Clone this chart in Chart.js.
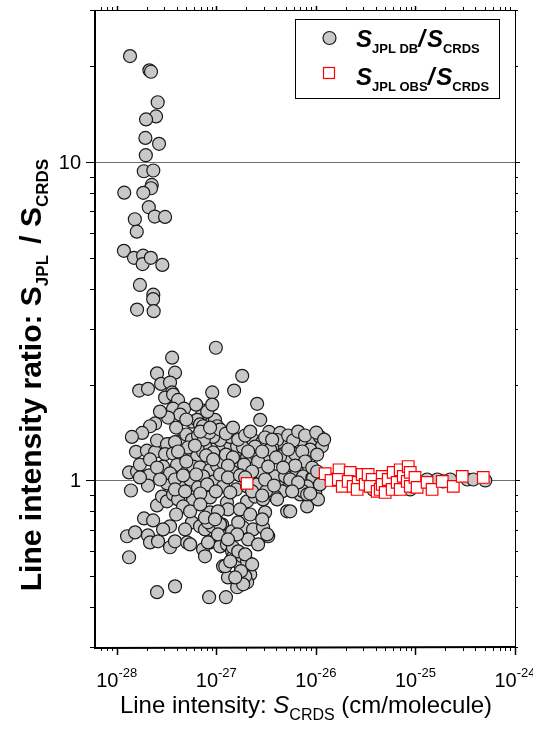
<!DOCTYPE html>
<html>
<head>
<meta charset="utf-8">
<script src="https://cdn.jsdelivr.net/npm/chart.js@4.4.1/dist/chart.umd.min.js"></script>
<style>
  html, body { margin: 0; padding: 0; background: #ffffff; }
  #wrap { width: 533px; height: 729px; }
</style>
</head>
<body>
<div id="wrap"><canvas id="c" width="533" height="729"></canvas></div>
<script>
// Line intensities S_CRDS (cm/molecule) and ratios S_JPL DB / S_CRDS
const dbIntensity = [
  1.36e-28, 2.13e-28, 2.21e-28, 2.58e-28, 2.48e-28, 1.97e-28, 1.94e-28, 2.66e-28, 1.96e-28, 1.87e-28,
  2.33e-28, 2.25e-28, 2.21e-28, 1.19e-28, 1.85e-28, 2.10e-28, 2.41e-28, 3.06e-28, 1.52e-28, 1.59e-28,
  1.18e-28, 1.49e-28, 1.84e-28, 1.82e-28, 2.20e-28, 2.87e-28, 1.71e-28, 2.33e-28, 2.32e-28, 1.60e-28,
  2.35e-28,
  9.9e-28, 3.6e-28, 2.54e-28, 3.85e-28, 1.82e-27, 1.68e-28, 2.06e-28, 2.79e-28, 3.43e-28, 3.6e-28,
  9.1e-28, 1.51e-27, 3.06e-28, 3.68e-28, 4.13e-28, 3.68e-28, 4.75e-28, 2.57e-27, 2.76e-27, 7.36e-28,
  8.26e-28, 7.2e-28, 9.7e-28, 1.02e-27, 5.7e-28, 6.42e-28, 6.87e-28, 2.43e-28, 2.16e-28, 1.8e-28,
  1.42e-28, 3.39e-27, 4.37e-27, 4.69e-27, 4.08e-27, 1.56e-28, 2.01e-28, 2.43e-28, 2.54e-28, 3.43e-28,
  4.33e-28, 4.64e-28, 3.2e-28, 3.85e-28,
  3.06e-28, 3.68e-28, 4.53e-28, 5.46e-28, 6.42e-28, 7.36e-28, 8.66e-28, 1.02e-27, 1.17e-27, 1.38e-27,
  1.62e-27, 1.86e-27, 2.34e-27, 2.89e-27, 3.64e-27, 4.69e-27, 5.52e-27,
  2.92e-28, 4.04e-28, 5.1e-28, 5.84e-28, 6.87e-28, 7.7e-28, 8.66e-28, 1.02e-27, 1.17e-27, 1.44e-27,
  1.73e-27, 2.04e-27, 2.57e-27, 3.24e-27, 3.9e-27, 4.69e-27, 5.15e-27,
  1.33e-28, 1.6e-28, 2.11e-28, 1.39e-28,
  3.2e-28, 4.33e-28, 5.46e-28, 7.36e-28, 9.5e-28, 1.17e-27, 1.58e-27, 2.04e-27, 2.57e-27, 3.32e-27,
  4.58e-27,
  2.54e-28, 2.85e-28, 3.2e-28, 3.68e-28, 4.13e-28, 5.84e-28, 8.66e-28, 1.28e-27, 1.31e-27, 2.04e-27,
  2.45e-27, 2.95e-27, 3.9e-27, 5.15e-27, 8.66e-28, 1.04e-27, 3.09e-27,
  1.88e-28, 2.32e-28, 3.43e-28, 5.7e-28, 6.87e-28, 7.7e-28, 9.1e-28, 1.14e-27, 1.44e-27, 1.86e-27,
  2.34e-27, 2.95e-27, 3.32e-27, 2.09e-27,
  1.27e-28, 1.53e-28, 2.06e-28, 2.16e-28, 2.6e-28, 3.43e-28, 3.85e-28, 5.1e-28, 5.46e-28, 7.36e-28,
  7.7e-28, 8.66e-28, 1.09e-27, 1.28e-27, 1.44e-27, 1.47e-27, 1.86e-27, 1.73e-27, 2.09e-27, 2.19e-27,
  2.04e-27, 1.62e-27, 1.95e-27, 1.17e-27, 1.31e-27, 3.85e-28, 2.54e-28, 8.47e-28, 1.25e-27, 1.33e-28,
  7.11e-27, 9.4e-27, 1.10e-26, 1.15e-26, 8.77e-27, 6.2e-27, 4.37e-27, 3.47e-27, 1.38e-27, 1.09e-27,
  9.3e-28, 8.1e-28, 7.36e-28, 9.3e-28, 2.76e-27, 4.92e-27, 6.49e-27, 7.45e-27, 9.2e-27, 7.3e-27,
  8.77e-27, 6.2e-27, 3.16e-27, 4.08e-27, 5.52e-27, 8.17e-27, 9.85e-27, 1.05e-26, 6.95e-27, 8.26e-28,
  1.09e-27, 1.66e-27, 3.24e-27, 8.26e-28, 1.47e-27, 1.82e-27, 2.04e-27, 1.23e-27, 1.86e-27,
  9.4e-27, 8.17e-27, 7.45e-27, 8.17e-27, 1.49e-26, 1.88e-26, 2.6e-26, 3.76e-26, 4.75e-26, 8.87e-26,
  9.5e-26, 1.31e-25, 1.66e-25, 1.9e-25, 2.24e-25, 3.32e-25, 3.81e-25, 5.03e-25,
  5.0e-28, 5.7e-28, 6.56e-28, 7.5e-28, 8.5e-28, 5.2e-28, 6.1e-28, 7.9e-28, 9.3e-28, 5.0e-28,
  4.13e-28, 6.9e-28,
  1.09e-27, 1.25e-27, 1.47e-27, 1.66e-27, 1.95e-27, 2.19e-27, 2.45e-27, 1.25e-27, 1.47e-27, 2.09e-27,
  2.63e-27, 1.9e-27, 1.31e-27,
  3.09e-27, 3.64e-27, 5.27e-27, 5.92e-27, 6.64e-27, 7.8e-27, 1.01e-26, 1.21e-26, 5.27e-27, 7.3e-27,
  1.03e-26, 2.89e-27, 3.99e-27, 7.8e-27, 6.2e-27, 4.69e-27, 3.32e-27, 9.2e-27,
  3.43e-28, 3.85e-28, 4.64e-28, 6.27e-28, 6.56e-28, 8.1e-28, 3.85e-28, 4.86e-28, 1.09e-27, 9.9e-28,
  6.9e-28,
  1.31e-27, 1.73e-27, 2.29e-27, 3.09e-27, 3.8e-27, 5.52e-27, 6.64e-27, 2.29e-27, 2.89e-27, 1.95e-27,
  1.38e-27, 8.77e-27, 1.10e-26, 1.03e-26, 5.78e-27,
  1.71e-28, 2.16e-28, 2.54e-28, 2.06e-28, 2.72e-28, 1.71e-28,
  4.64e-28, 5.46e-28, 6.9e-28, 7.7e-28, 9.7e-28, 1.73e-27, 2.19e-27, 1.62e-27, 1.04e-27, 4.86e-28,
  2.92e-28, 3.95e-28, 2.63e-27, 2.89e-27, 1.31e-27,
  1.66e-27, 1.95e-27, 2.29e-27, 1.77e-27, 1.55e-27, 1.38e-27,
  4.33e-28, 5.0e-28, 3.28e-28, 2.72e-28, 3.95e-28, 9.1e-28, 6.27e-28, 8.66e-28
];
const dbRatio = [
  21.5, 19.4, 19.2, 15.4, 13.9, 13.6, 11.9, 11.4, 10.5, 9.35,
  9.4, 8.47, 8.27, 8.01, 8.0, 7.21, 6.74, 6.72, 6.61, 6.04,
  5.26, 5.0, 5.08, 4.78, 5.0, 4.75, 4.11, 3.83, 3.71, 3.44,
  3.40,
  2.61, 2.43, 2.17, 2.18, 2.13, 1.915, 1.94, 2.01, 2.03, 1.89,
  1.89, 1.915, 1.82, 1.86, 1.79, 1.68, 1.68, 1.74, 1.55, 1.657,
  1.59, 1.61, 1.55, 1.48, 1.53, 1.55, 1.50, 1.51, 1.48, 1.41,
  1.37, 1.42, 1.41, 1.30, 1.34, 1.23, 1.24, 1.23, 1.335, 1.30,
  1.33, 1.335, 1.30, 1.32,
  1.21, 1.215, 1.19, 1.16, 1.19, 1.23, 1.28, 1.32, 1.27, 1.30,
  1.28, 1.27, 1.34, 1.32, 1.27, 1.21, 1.16,
  1.106, 1.12, 1.067, 1.106, 1.10, 1.03, 1.08, 1.114, 1.14, 1.08,
  1.147, 1.18, 1.19, 1.16, 1.03, 0.958, 0.937,
  1.06, 1.067, 1.037, 0.93,
  0.979, 0.986, 1.007, 1.03, 0.993, 0.958, 0.937, 0.958, 0.972, 0.937,
  0.924,
  0.835, 0.89, 0.86, 0.904, 0.872, 0.866, 0.885, 0.853, 0.811, 0.86,
  0.89, 0.872, 0.89, 0.80, 0.794, 0.80, 0.794,
  0.76, 0.749, 0.718, 0.739, 0.718, 0.702, 0.718, 0.728, 0.692, 0.712,
  0.702, 0.712, 0.668, 0.653,
  0.668, 0.687, 0.672, 0.639, 0.644, 0.617, 0.644, 0.639, 0.63, 0.608,
  0.578, 0.639, 0.621, 0.63, 0.599, 0.574, 0.565, 0.545, 0.526, 0.507,
  0.479, 0.462, 0.50, 0.538, 0.496, 0.465, 0.446, 0.43, 0.43, 0.574,
  1.34, 1.33, 1.37, 1.28, 1.25, 1.21, 1.19, 1.25, 1.37, 1.34,
  1.37, 1.645, 1.48, 1.224, 1.06, 1.03, 1.067, 1.03, 1.02, 0.958,
  0.958, 0.958, 0.924, 0.872, 0.80, 0.829, 0.917, 0.872, 0.904, 0.739,
  0.728, 0.739, 0.677, 0.639, 0.617, 0.578, 0.557, 0.538, 0.472,
  1.02, 0.958, 0.924, 0.904, 1.007, 0.986, 0.958, 0.937, 0.951, 0.937,
  0.958, 1.007, 1.007, 0.993, 1.007, 1.007, 1.007, 1.0,
  1.394, 1.344, 1.384, 1.344, 1.414, 1.269, 1.287, 1.198, 1.164, 1.147,
  1.233, 1.424,
  1.445, 1.404, 1.466, 1.344, 1.384, 1.424, 1.278, 1.206, 1.181, 1.233,
  1.147, 1.122, 1.114,
  1.364, 1.344, 1.384, 1.335, 1.424, 1.384, 1.414, 1.344, 1.251, 1.233,
  1.206, 1.233, 1.181, 1.147, 1.114, 1.098, 1.106, 1.098,
  1.052, 1.007, 1.037, 1.044, 0.951, 0.972, 0.937, 0.924, 1.044, 0.924,
  0.91,
  1.022, 1.037, 1.067, 1.007, 0.964, 1.007, 0.986, 0.924, 0.897, 1.022,
  0.917, 0.91, 0.972, 1.067, 0.924,
  1.122, 1.164, 1.098, 0.964, 1.007, 1.022,
  0.829, 0.80, 0.841, 0.765, 0.755, 0.811, 0.782, 0.677, 0.677, 0.702,
  0.702, 0.782, 0.63, 0.755, 0.653,
  0.599, 0.586, 0.545, 0.519, 0.496, 0.557,
  1.61, 1.554, 1.576, 1.645, 1.466, 1.73, 1.73, 1.466
];
// Line intensities and ratios S_JPL OBS / S_CRDS
const obsIntensity = [
  2.04e-27,
  1.24e-26, 1.42e-26, 1.71e-26, 1.68e-26, 1.84e-26, 2.21e-26, 2.11e-26, 2.37e-26, 2.66e-26, 2.6e-26,
  2.92e-26, 3.13e-26, 3.35e-26, 3.68e-26, 3.51e-26, 4.13e-26, 4.43e-26, 4.64e-26, 4.64e-26, 4.97e-26,
  5.33e-26, 5.84e-26, 5.98e-26, 6.56e-26, 7.03e-26, 7.03e-26, 7.55e-26, 8.47e-26, 8.28e-26, 8.87e-26,
  8.87e-26, 9.9e-26, 1.04e-25, 1.31e-25, 1.47e-25, 1.86e-25, 2.4e-25, 2.95e-25, 4.8e-25
];
const obsRatio = [
  0.979,
  1.05, 1.0, 1.08, 1.007, 0.958, 1.06, 0.993, 0.958, 0.986, 0.937,
  1.044, 0.972, 1.044, 1.007, 0.958, 0.924, 0.937, 1.03, 0.972, 0.917,
  1.007, 0.937, 1.06, 0.986, 1.08, 0.937, 1.03, 1.106, 0.993, 1.06,
  0.958, 1.022, 0.951, 0.986, 0.937, 0.993, 0.958, 1.03, 1.022
];
// Axis decades and labelled ratio ticks
const xDecades = [-28, -27, -26, -25, -24];
const yTickValues = [1, 10];
const yTickLabels = ['1', '10'];
const xRange = [6.05e-29, 1e-24];
const yRange = [0.3, 30];

const FONT = '"Liberation Sans", Arial, Helvetica, sans-serif';

function toPoints(xs, ys) {
  return xs.map((x, i) => ({ x: x, y: ys[i] }));
}

// Text runs made of segments (main text, subscripts, superscripts) on one baseline
function richWidth(ctx, segs) {
  let w = 0;
  for (const s of segs) { ctx.font = s.font; w += ctx.measureText(s.t).width + (s.gap || 0); }
  return w;
}
function drawRich(ctx, segs, x, y) {
  let cx = x;
  for (const s of segs) {
    ctx.font = s.font;
    ctx.fillText(s.t, cx, y + (s.dy || 0));
    cx += ctx.measureText(s.t).width + (s.gap || 0);
  }
}

const decorations = {
  id: 'decorations',
  beforeDatasetsDraw(chart) {
    const { ctx, chartArea: a, scales: { y } } = chart;
    ctx.save();
    ctx.strokeStyle = '#6e6e6e';
    ctx.lineWidth = 1;
    for (const v of yTickValues) {
      const py = Math.round(y.getPixelForValue(v)) + 0.5;
      ctx.beginPath(); ctx.moveTo(a.left, py); ctx.lineTo(a.right, py); ctx.stroke();
    }
    ctx.restore();
  },
  afterDatasetsDraw(chart) {
    const { ctx, chartArea: a, scales: { x, y } } = chart;
    ctx.save();
    ctx.strokeStyle = '#000';
    ctx.fillStyle = '#000';

    // frame
    ctx.lineWidth = 1;
    ctx.strokeRect(a.left + 0.5, a.top + 0.5, a.right - a.left, a.bottom - a.top);
    ctx.lineWidth = 2;
    ctx.beginPath();
    ctx.moveTo(a.left, a.top); ctx.lineTo(a.left, a.bottom + 1); ctx.lineTo(a.right + 1, a.bottom);
    ctx.stroke();

    // x ticks, bottom and top
    for (let k = -29; k <= -25; k++) {
      for (let m = 1; m <= 9; m++) {
        const v = m * Math.pow(10, k);
        if (v < xRange[0] * 0.999 || v > xRange[1] * 1.001) continue;
        const px = Math.round(x.getPixelForValue(v)) + 0.5;
        const major = (m === 1);
        ctx.lineWidth = major ? 1.5 : 1;
        ctx.beginPath(); ctx.moveTo(px, a.bottom); ctx.lineTo(px, a.bottom + (major ? 8 : 4)); ctx.stroke();
        ctx.beginPath(); ctx.moveTo(px, a.top); ctx.lineTo(px, a.top - (major ? 4 : 3)); ctx.stroke();
      }
    }
    {
      const px = Math.round(x.getPixelForValue(1e-24)) + 0.5;
      ctx.lineWidth = 1.5;
      ctx.beginPath(); ctx.moveTo(px, a.bottom); ctx.lineTo(px, a.bottom + 8); ctx.stroke();
    }

    // y ticks, left and right
    for (let k = -1; k <= 1; k++) {
      for (let m = 1; m <= 9; m++) {
        const v = m * Math.pow(10, k);
        if (v < yRange[0] * 0.999 || v > yRange[1] * 1.001) continue;
        const py = Math.round(y.getPixelForValue(v)) + 0.5;
        const major = (m === 1);
        ctx.lineWidth = 1;
        ctx.beginPath(); ctx.moveTo(a.left, py); ctx.lineTo(a.left - (major ? 9 : 5), py); ctx.stroke();
        ctx.beginPath(); ctx.moveTo(a.right, py); ctx.lineTo(a.right + (major ? 5 : 3), py); ctx.stroke();
      }
    }

    // x tick labels: 10 with superscript exponent
    ctx.textBaseline = 'alphabetic';
    for (const e of xDecades) {
      const px = x.getPixelForValue(Math.pow(10, e));
      const segs = [
        { t: '10', font: '20px ' + FONT },
        { t: String(e), font: '13px ' + FONT, dy: -10 }
      ];
      const w = richWidth(ctx, segs);
      drawRich(ctx, segs, px - w / 2, a.bottom + 40);
    }

    // y tick labels
    ctx.font = '20px ' + FONT;
    ctx.textAlign = 'right';
    yTickValues.forEach((v, i) => {
      const py = y.getPixelForValue(v);
      ctx.fillText(yTickLabels[i], a.left - 14, py + 7);
    });
    ctx.textAlign = 'left';

    // x axis title
    {
      const segs = [
        { t: 'Line intensity: ', font: '24px ' + FONT },
        { t: 'S', font: 'italic 24px ' + FONT },
        { t: 'CRDS', font: '16px ' + FONT, dy: 7 },
        { t: ' (cm/molecule)', font: '24px ' + FONT }
      ];
      const w = richWidth(ctx, segs);
      drawRich(ctx, segs, 306 - w / 2, 713);
    }

    // y axis title (rotated)
    {
      const segs = [
        { t: 'Line intensity ratio: ', font: 'bold 30px ' + FONT },
        { t: 'S', font: 'bold 30px ' + FONT },
        { t: 'JPL', font: 'bold 17px ' + FONT, dy: 7, gap: 3 },
        { t: ' / ', font: 'bold 30px ' + FONT },
        { t: 'S', font: 'bold 30px ' + FONT },
        { t: 'CRDS', font: 'bold 17px ' + FONT, dy: 7 }
      ];
      const w = richWidth(ctx, segs);
      ctx.save();
      ctx.translate(41, 375);
      ctx.rotate(-Math.PI / 2);
      drawRich(ctx, segs, -w / 2, 0);
      ctx.restore();
    }

    // legend
    {
      const bx = 295, by = 19, bw = 204, bh = 79;
      ctx.fillStyle = '#fff';
      ctx.fillRect(bx, by, bw, bh);
      ctx.strokeStyle = '#000';
      ctx.lineWidth = 1;
      ctx.strokeRect(bx + 0.5, by + 0.5, bw, bh);

      ctx.beginPath();
      ctx.arc(329.5, 38, 6.5, 0, Math.PI * 2);
      ctx.fillStyle = '#c8c8c8'; ctx.fill();
      ctx.strokeStyle = '#1a1a1a'; ctx.lineWidth = 1.2; ctx.stroke();

      ctx.fillStyle = '#fff';
      ctx.fillRect(323.5, 67.5, 11, 11);
      ctx.strokeStyle = '#ff0000'; ctx.lineWidth = 1.2;
      ctx.strokeRect(323.5, 67.5, 11, 11);

      ctx.fillStyle = '#000';
      const big = 'bold italic 24px ' + FONT;
      const sub = 'bold 13px ' + FONT;
      drawRich(ctx, [
        { t: 'S', font: big },
        { t: 'JPL DB', font: sub, dy: 6 },
        { t: '/', font: big, gap: 2 },
        { t: 'S', font: big },
        { t: 'CRDS', font: sub, dy: 6 }
      ], 356, 47);
      drawRich(ctx, [
        { t: 'S', font: big },
        { t: 'JPL OBS', font: sub, dy: 6 },
        { t: '/', font: big, gap: 2 },
        { t: 'S', font: big },
        { t: 'CRDS', font: sub, dy: 6 }
      ], 356, 85);
    }
    ctx.restore();
  }
};

new Chart(document.getElementById('c'), {
  type: 'scatter',
  data: {
    datasets: [
      {
        label: 'S JPL OBS / S CRDS',
        data: toPoints(obsIntensity, obsRatio),
        pointStyle: 'rect',
        pointRadius: 8.2,
        pointBackgroundColor: '#ffffff',
        pointBorderColor: '#ff0000',
        pointBorderWidth: 1.2,
        order: 0
      },
      {
        label: 'S JPL DB / S CRDS',
        data: toPoints(dbIntensity, dbRatio),
        pointStyle: 'circle',
        pointRadius: 6.5,
        pointBackgroundColor: '#c8c8c8',
        pointBorderColor: '#1a1a1a',
        pointBorderWidth: 1.2,
        order: 1
      }
    ]
  },
  options: {
    responsive: false,
    devicePixelRatio: 1,
    animation: false,
    layout: { padding: { top: 10, right: 18, left: 0, bottom: 0 } },
    plugins: { legend: { display: false }, tooltip: { enabled: false } },
    scales: {
      x: {
        type: 'logarithmic',
        min: xRange[0], max: xRange[1],
        grid: { display: false },
        border: { display: false },
        ticks: { display: false },
        afterFit(scale) { scale.height = 82; }
      },
      y: {
        type: 'logarithmic',
        min: yRange[0], max: yRange[1],
        grid: { display: false },
        border: { display: false },
        ticks: { display: false },
        afterFit(scale) { scale.width = 95; }
      }
    }
  },
  plugins: [decorations]
});
</script>
</body>
</html>
